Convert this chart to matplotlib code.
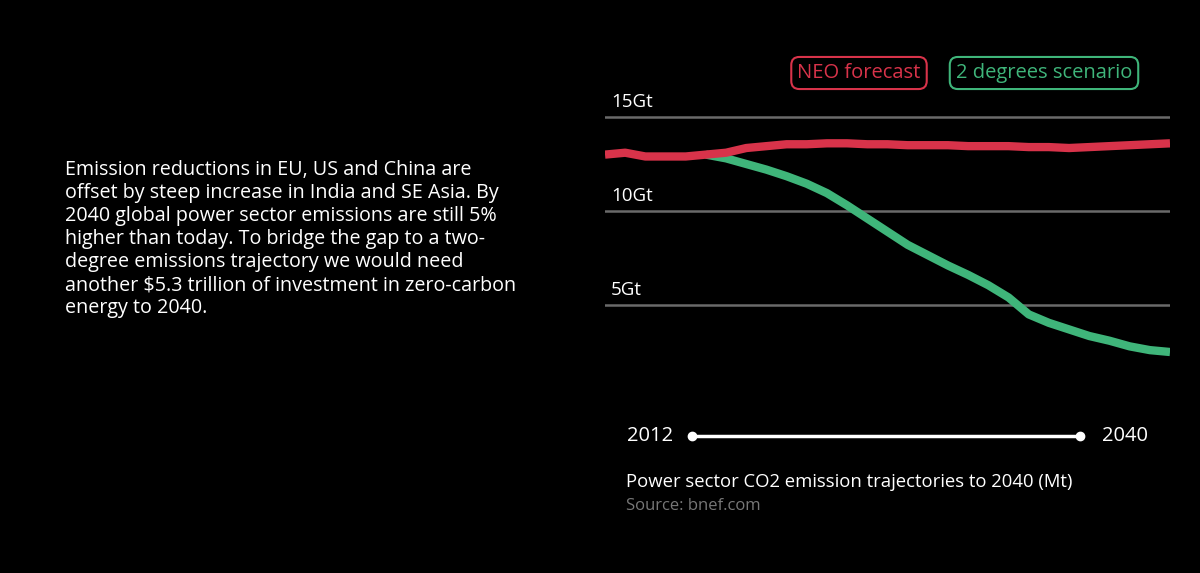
import numpy as np
import matplotlib
matplotlib.use("Agg")
import matplotlib.pyplot as plt

years = np.arange(2012, 2041)
neo = [13.0, 13.1, 12.9, 12.9, 12.9, 13.0, 13.1, 13.35, 13.45, 13.55, 13.55, 13.6, 13.6,
       13.55, 13.55, 13.5, 13.5, 13.5, 13.45, 13.45, 13.45, 13.4, 13.4, 13.35, 13.4,
       13.45, 13.5, 13.55, 13.6]
two_deg_years = np.arange(2017, 2041)
two_deg = [13.0, 12.8, 12.5, 12.2, 11.85, 11.45, 10.95, 10.3, 9.6, 8.9, 8.2, 7.65, 7.1,
           6.6, 6.05, 5.4, 4.5, 4.05, 3.7, 3.35, 3.1, 2.8, 2.6, 2.5]
grid_vals = [5, 10, 15]
grid_labels = ["5Gt", "10Gt", "15Gt"]

red = "#d8334a"
green = "#3fb57a"
FONT = "Open Sans"
W, H = 1200, 573
fig = plt.figure(figsize=(12, 5.73), dpi=100, facecolor="black")
ax = fig.add_axes([605 / W, 1 - 399 / H, 565 / W, 289 / H], facecolor="black")
ax.set_xlim(2012, 2040)
ax.set_ylim(0, 15 * 289 / 282)
for v, lab in zip(grid_vals, grid_labels):
    ax.axhline(v, color="#6a6a6a", lw=1.8, zorder=1)
    ax.text(2012.3, v + 0.3, lab, color="white", fontsize=13.5, family=FONT, va="bottom")
ax.plot(two_deg_years, two_deg, color=green, lw=6, solid_capstyle="butt", zorder=2)
ax.plot(years, neo, color=red, lw=6, solid_capstyle="butt", zorder=3)
ax.axis("off")

fig.text(65 / W, 1 - 160 / H,
         "Emission reductions in EU, US and China are\n"
         "offset by steep increase in India and SE Asia. By\n"
         "2040 global power sector emissions are still 5%\n"
         "higher than today. To bridge the gap to a two-\n"
         "degree emissions trajectory we would need\n"
         "another $5.3 trillion of investment in zero-carbon\n"
         "energy to 2040.",
         color="white", fontsize=14.2, family=FONT, va="top", linespacing=1.2)

box = dict(boxstyle="round,pad=0.3,rounding_size=0.4", fc="black", lw=1.5)
fig.text(859 / W, 1 - 73 / H, "NEO forecast", color=red, fontsize=14.5, family=FONT,
         ha="center", va="center", bbox=dict(box, ec=red))
fig.text(1044 / W, 1 - 73 / H, "2 degrees scenario", color=green, fontsize=14.5, family=FONT,
         ha="center", va="center", bbox=dict(box, ec=green))

# timeline
fig.add_artist(plt.Line2D([692 / W, 1080 / W], [1 - 436 / H] * 2, color="white", lw=2.5))
fig.add_artist(plt.Line2D([692 / W, 1080 / W], [1 - 436 / H] * 2, color="white", lw=0,
                          marker="o", markersize=6))
fig.text(650 / W, 1 - 436 / H, "2012", color="white", fontsize=14.5, family=FONT,
         ha="center", va="center")
fig.text(1125 / W, 1 - 436 / H, "2040", color="white", fontsize=14.5, family=FONT,
         ha="center", va="center")
fig.text(626 / W, 1 - 482 / H, "Power sector CO2 emission trajectories to 2040 (Mt)",
         color="white", fontsize=13.3, family=FONT, va="center")
fig.text(626 / W, 1 - 506 / H, "Source: bnef.com", color="#777777", fontsize=12,
         family=FONT, va="center")

fig.savefig("out.png", dpi=100, facecolor="black")
